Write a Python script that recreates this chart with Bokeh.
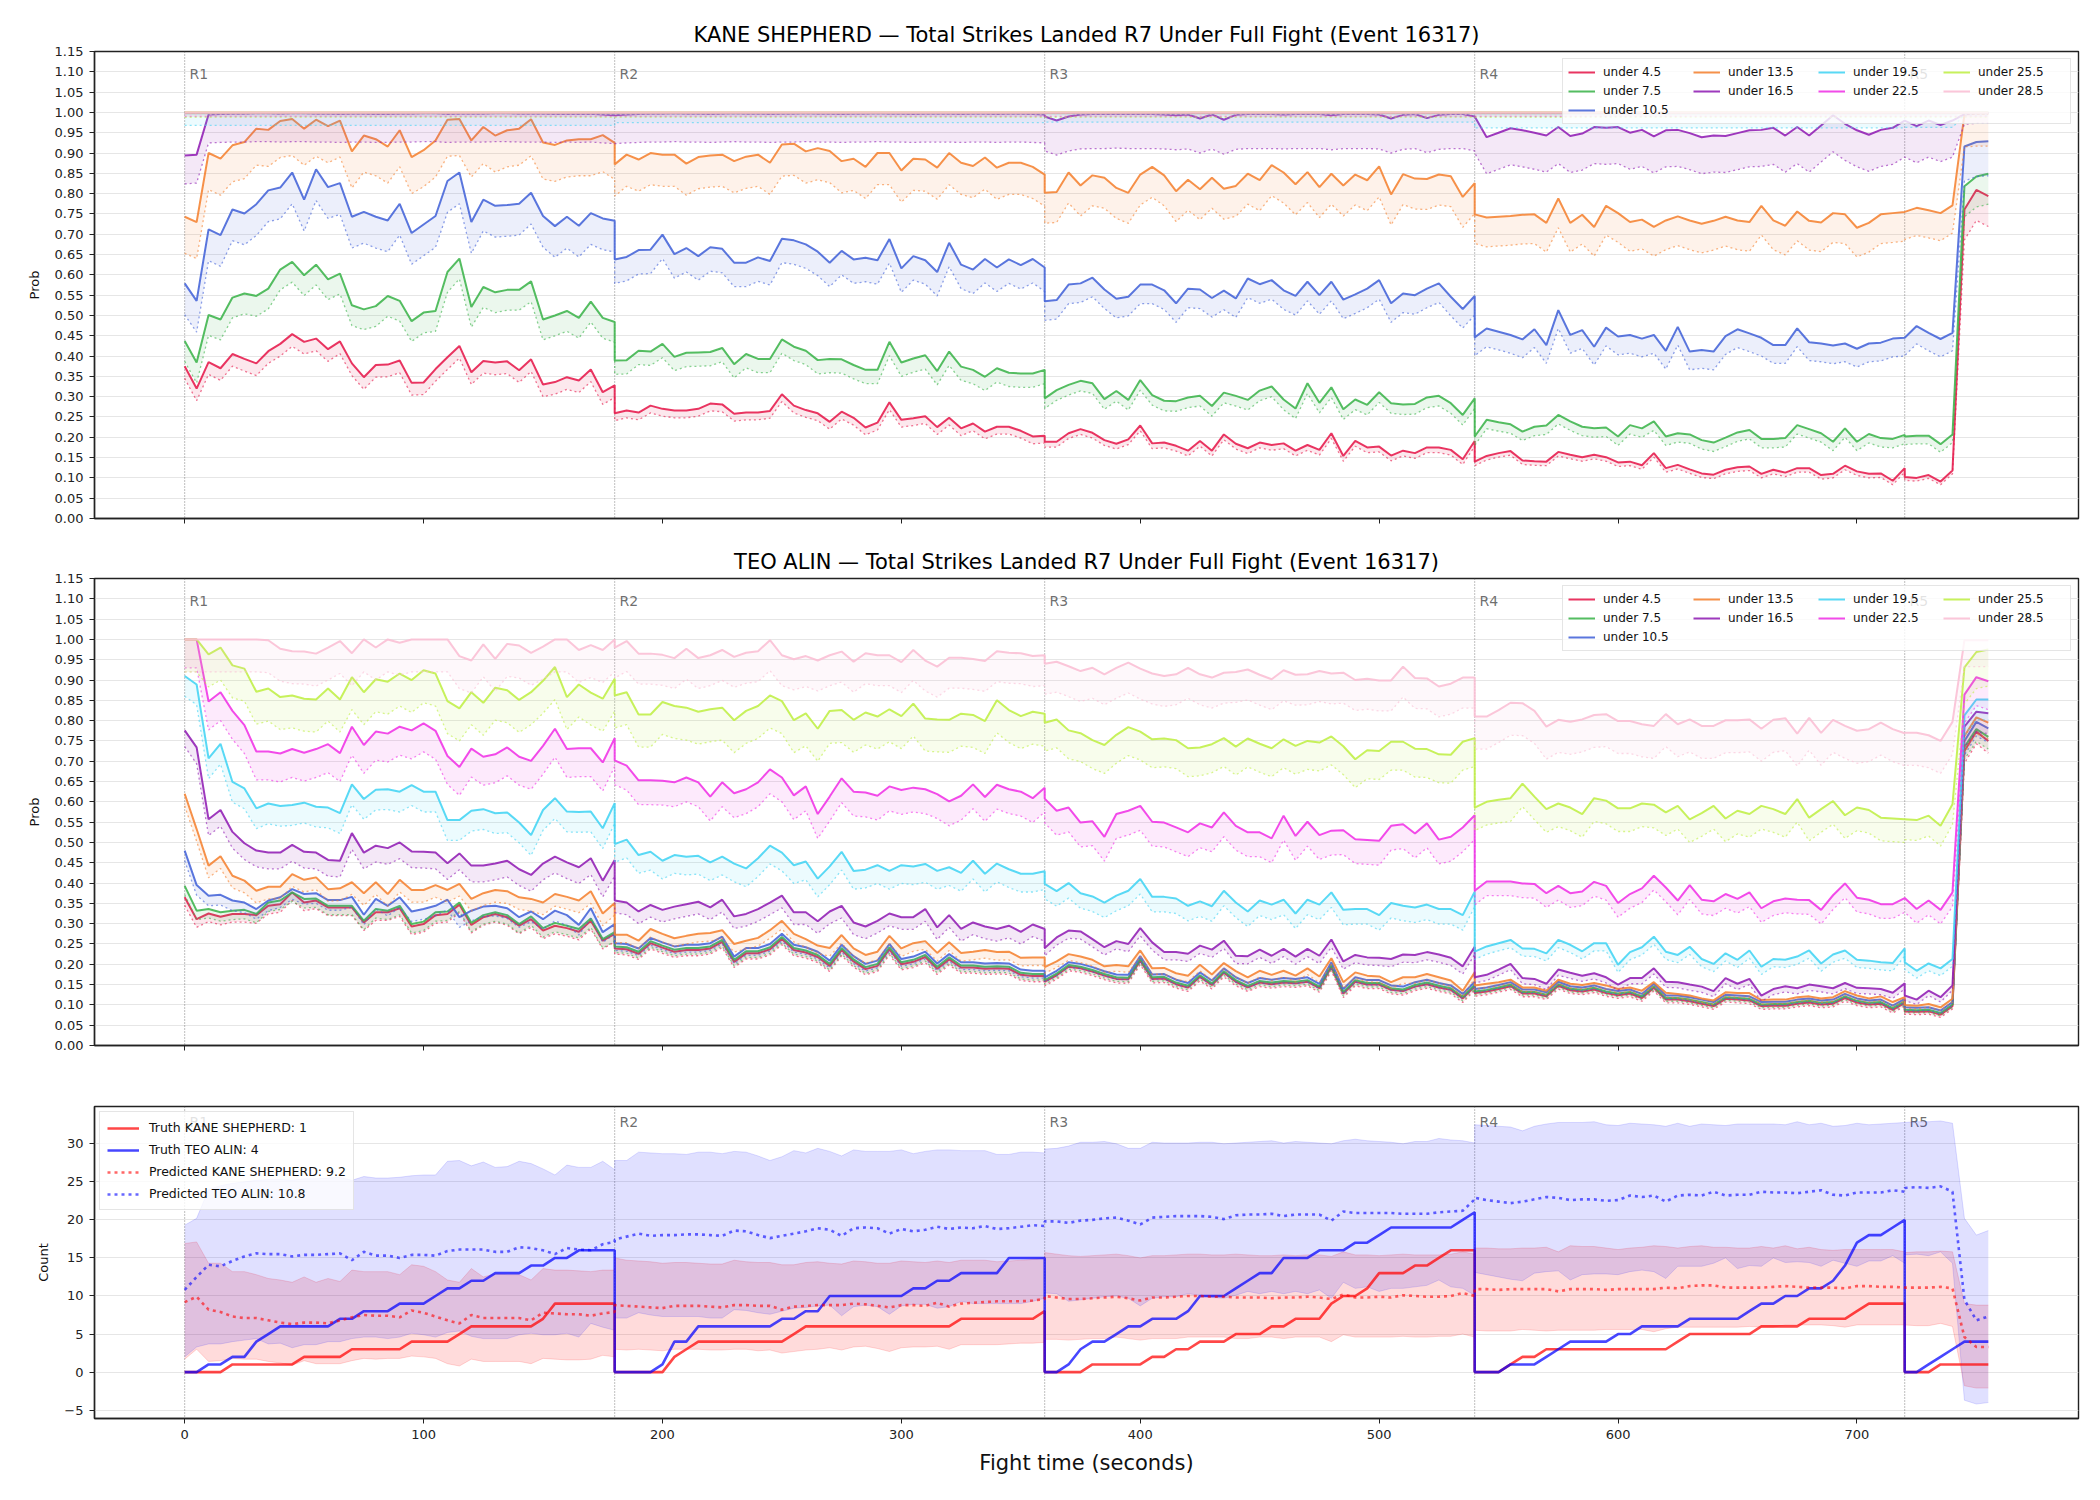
import numpy as np
from bokeh.plotting import figure
from bokeh.models import Range1d, FixedTicker, PrintfTickFormatter, Span, Legend, LegendItem
from bokeh.layouts import column
from bokeh.embed import file_html
from bokeh.resources import INLINE
from bokeh.core.properties import value

# ---------------------------------------------------------------- time grid
ROUND_STARTS = [0, 180, 360, 540, 720]
ROUND_ENDS = [180, 360, 540, 720, 755]
ROUND_NAMES = ["R1", "R2", "R3", "R4", "R5"]
STEP = 5
FINAL_JUMP_T = 745
X_TICKS = [0, 100, 200, 300, 400, 500, 600, 700]

THRESHOLDS = ["4.5", "7.5", "10.5", "13.5", "16.5", "19.5", "22.5", "25.5", "28.5"]
COLORS = ["#e6194b", "#3cb44b", "#4363d8", "#f58231", "#911eb4",
          "#42d4f4", "#f032e6", "#bfef45", "#fabed4"]

# ---------------------------------------------------------------- KANE SHEPHERD, P(strikes under X)
KANE_U4_5 = [
    0.375, 0.32, 0.385, 0.37, 0.405, 0.393, 0.382, 0.412, 0.43, 0.454, 0.435, 0.443, 0.417, 0.436, 0.382, 0.348, 0.378, 0.379, 0.389, 0.334, 0.335, 0.368, 0.397, 0.425, 0.36, 0.388, 0.384, 0.387, 0.365, 0.392, 0.33, 0.336, 0.348, 0.34, 0.367, 0.311, 0.328,
    0.259, 0.266, 0.261, 0.278, 0.27, 0.266, 0.266, 0.27, 0.283, 0.281, 0.258, 0.261, 0.261, 0.265, 0.306, 0.278, 0.267, 0.259, 0.238, 0.263, 0.248, 0.224, 0.236, 0.286, 0.243, 0.247, 0.252, 0.225, 0.248, 0.222, 0.234, 0.214, 0.226, 0.226, 0.216, 0.202, 0.204,
    0.189, 0.189, 0.21, 0.22, 0.211, 0.193, 0.184, 0.195, 0.229, 0.185, 0.187, 0.179, 0.167, 0.191, 0.167, 0.207, 0.184, 0.173, 0.187, 0.181, 0.185, 0.167, 0.181, 0.169, 0.21, 0.154, 0.191, 0.175, 0.177, 0.155, 0.167, 0.161, 0.175, 0.175, 0.169, 0.146, 0.191,
    0.14, 0.154, 0.161, 0.166, 0.143, 0.141, 0.14, 0.164, 0.157, 0.151, 0.157, 0.151, 0.138, 0.14, 0.131, 0.161, 0.124, 0.132, 0.121, 0.111, 0.108, 0.12, 0.126, 0.128, 0.11, 0.12, 0.113, 0.124, 0.124, 0.107, 0.11, 0.13, 0.116, 0.11, 0.111, 0.093, 0.124,
    0.102, 0.1, 0.107, 0.091, 0.118, 0.761, 0.809, 0.794]
KANE_U7_5 = [
    0.437, 0.384, 0.501, 0.49, 0.544, 0.554, 0.548, 0.566, 0.613, 0.632, 0.599, 0.625, 0.589, 0.603, 0.525, 0.515, 0.523, 0.548, 0.536, 0.486, 0.507, 0.511, 0.607, 0.64, 0.521, 0.57, 0.557, 0.563, 0.563, 0.584, 0.49, 0.5, 0.511, 0.494, 0.534, 0.494, 0.484,
    0.389, 0.39, 0.413, 0.411, 0.43, 0.398, 0.408, 0.409, 0.41, 0.42, 0.38, 0.405, 0.393, 0.393, 0.441, 0.423, 0.413, 0.39, 0.393, 0.392, 0.378, 0.366, 0.366, 0.435, 0.384, 0.394, 0.402, 0.363, 0.411, 0.374, 0.366, 0.349, 0.37, 0.359, 0.357, 0.357, 0.366,
    0.296, 0.316, 0.329, 0.339, 0.333, 0.294, 0.314, 0.292, 0.341, 0.304, 0.29, 0.289, 0.298, 0.302, 0.277, 0.31, 0.302, 0.292, 0.315, 0.325, 0.293, 0.271, 0.333, 0.285, 0.323, 0.269, 0.293, 0.28, 0.311, 0.284, 0.281, 0.282, 0.298, 0.302, 0.284, 0.255, 0.296,
    0.202, 0.243, 0.237, 0.232, 0.214, 0.226, 0.229, 0.255, 0.239, 0.226, 0.222, 0.224, 0.202, 0.23, 0.222, 0.239, 0.202, 0.21, 0.207, 0.193, 0.187, 0.199, 0.212, 0.218, 0.196, 0.196, 0.198, 0.23, 0.22, 0.21, 0.189, 0.222, 0.189, 0.208, 0.198, 0.196, 0.206,
    0.202, 0.204, 0.204, 0.183, 0.207, 0.818, 0.842, 0.849]
KANE_U10_5 = [
    0.579, 0.536, 0.712, 0.698, 0.761, 0.751, 0.774, 0.808, 0.815, 0.852, 0.785, 0.86, 0.816, 0.826, 0.743, 0.755, 0.743, 0.734, 0.775, 0.703, 0.724, 0.745, 0.831, 0.852, 0.73, 0.785, 0.77, 0.772, 0.775, 0.802, 0.745, 0.72, 0.743, 0.721, 0.752, 0.739, 0.733,
    0.638, 0.644, 0.661, 0.662, 0.699, 0.651, 0.666, 0.646, 0.668, 0.664, 0.63, 0.63, 0.643, 0.634, 0.689, 0.685, 0.675, 0.657, 0.63, 0.659, 0.638, 0.642, 0.636, 0.688, 0.616, 0.646, 0.636, 0.607, 0.679, 0.625, 0.613, 0.639, 0.618, 0.638, 0.624, 0.639, 0.618,
    0.535, 0.538, 0.576, 0.579, 0.593, 0.564, 0.541, 0.546, 0.576, 0.576, 0.562, 0.53, 0.566, 0.564, 0.543, 0.561, 0.542, 0.591, 0.577, 0.587, 0.562, 0.548, 0.583, 0.55, 0.583, 0.539, 0.552, 0.566, 0.587, 0.53, 0.554, 0.55, 0.566, 0.579, 0.546, 0.516, 0.548,
    0.446, 0.468, 0.46, 0.452, 0.441, 0.466, 0.427, 0.513, 0.452, 0.464, 0.423, 0.47, 0.448, 0.452, 0.443, 0.452, 0.413, 0.472, 0.411, 0.415, 0.411, 0.449, 0.466, 0.456, 0.445, 0.427, 0.427, 0.468, 0.434, 0.431, 0.426, 0.431, 0.418, 0.431, 0.433, 0.443, 0.445,
    0.445, 0.474, 0.457, 0.442, 0.457, 0.916, 0.927, 0.929]
KANE_U13_5 = [
    0.743, 0.73, 0.9, 0.886, 0.919, 0.927, 0.96, 0.957, 0.979, 0.984, 0.96, 0.982, 0.966, 0.98, 0.904, 0.943, 0.934, 0.916, 0.956, 0.89, 0.907, 0.931, 0.982, 0.984, 0.931, 0.964, 0.943, 0.956, 0.96, 0.983, 0.926, 0.92, 0.931, 0.934, 0.934, 0.944, 0.925,
    0.872, 0.896, 0.884, 0.9, 0.896, 0.896, 0.874, 0.89, 0.894, 0.896, 0.88, 0.891, 0.896, 0.876, 0.921, 0.923, 0.904, 0.912, 0.905, 0.88, 0.886, 0.866, 0.9, 0.9, 0.857, 0.886, 0.884, 0.864, 0.9, 0.876, 0.868, 0.889, 0.864, 0.876, 0.876, 0.866, 0.847,
    0.802, 0.804, 0.852, 0.82, 0.845, 0.839, 0.814, 0.802, 0.847, 0.866, 0.845, 0.806, 0.834, 0.811, 0.839, 0.812, 0.819, 0.849, 0.833, 0.87, 0.852, 0.823, 0.853, 0.816, 0.849, 0.82, 0.847, 0.833, 0.867, 0.798, 0.848, 0.837, 0.836, 0.847, 0.843, 0.792, 0.826,
    0.749, 0.741, 0.743, 0.745, 0.748, 0.749, 0.728, 0.788, 0.728, 0.748, 0.718, 0.77, 0.752, 0.73, 0.736, 0.718, 0.734, 0.744, 0.734, 0.726, 0.733, 0.743, 0.734, 0.73, 0.77, 0.734, 0.721, 0.756, 0.733, 0.729, 0.752, 0.749, 0.716, 0.728, 0.749, 0.752, 0.755,
    0.755, 0.765, 0.759, 0.752, 0.771, 0.995, 0.997, 0.997]
KANE_U16_5 = [
    0.894, 0.896, 0.995, 0.996, 0.997, 0.997, 0.998, 0.998, 0.997, 0.998, 0.998, 0.997, 0.997, 0.996, 0.997, 0.997, 0.996, 0.996, 0.997, 0.997, 0.998, 0.998, 0.996, 0.997, 0.997, 0.997, 0.998, 0.998, 0.997, 0.997, 0.997, 0.996, 0.997, 0.996, 0.997, 0.995, 0.993,
    0.993, 0.995, 0.996, 0.997, 0.997, 0.998, 0.997, 0.997, 0.996, 0.997, 0.998, 0.997, 0.997, 0.996, 0.997, 0.997, 0.998, 0.997, 0.997, 0.996, 0.997, 0.997, 0.998, 0.997, 0.997, 0.996, 0.997, 0.997, 0.997, 0.996, 0.997, 0.997, 0.996, 0.997, 0.997, 0.996, 0.995,
    0.99, 0.98, 0.99, 0.995, 0.996, 0.996, 0.997, 0.996, 0.996, 0.996, 0.995, 0.993, 0.995, 0.985, 0.995, 0.982, 0.994, 0.996, 0.996, 0.996, 0.995, 0.996, 0.996, 0.996, 0.993, 0.996, 0.996, 0.996, 0.995, 0.985, 0.994, 0.996, 0.986, 0.994, 0.996, 0.996, 0.99,
    0.99, 0.939, 0.95, 0.961, 0.956, 0.95, 0.943, 0.964, 0.942, 0.948, 0.964, 0.962, 0.964, 0.95, 0.957, 0.941, 0.956, 0.957, 0.949, 0.939, 0.943, 0.942, 0.949, 0.956, 0.957, 0.962, 0.943, 0.964, 0.943, 0.968, 0.993, 0.972, 0.956, 0.945, 0.957, 0.962, 0.98,
    0.98, 0.966, 0.98, 0.969, 0.98, 0.996, 0.998, 0.998]
# the four highest thresholds stay pinned near certainty for the whole bout
KANE_U19_5 = [0.998] * 153 + [0.999] * 3
KANE_U22_5 = [0.999] * 156
KANE_U25_5 = [1.0] * 156
KANE_U28_5 = [1.0] * 156

# lower dotted bound: distance below each line, per R1..R5 and for the last three samples
KANE_GAPS = [
    [0.03, 0.018, 0.013, 0.01, 0.008, 0.075],
    [0.05, 0.034, 0.025, 0.022, 0.02, 0.075],
    [0.077, 0.059, 0.047, 0.045, 0.044, 0.085],
    [0.09, 0.078, 0.075, 0.072, 0.068, 0.08],
    [0.07, 0.07, 0.085, 0.09, 0.09, 0.025],
    [0.03, 0.023, 0.022, 0.036, 0.035, 0.005],
    [0.009, 0.009, 0.009, 0.009, 0.009, 0.009],
    [0.012, 0.012, 0.012, 0.012, 0.012, 0.012],
    [0.005, 0.005, 0.005, 0.005, 0.005, 0.005],
]

# ---------------------------------------------------------------- TEO ALIN, P(strikes under X)
TEO_U4_5 = [
    0.365, 0.311, 0.325, 0.317, 0.324, 0.324, 0.321, 0.344, 0.348, 0.377, 0.352, 0.357, 0.34, 0.34, 0.34, 0.303, 0.328, 0.328, 0.338, 0.293, 0.299, 0.321, 0.324, 0.347, 0.297, 0.316, 0.324, 0.316, 0.295, 0.311, 0.283, 0.295, 0.289, 0.28, 0.307, 0.258, 0.275,
    0.239, 0.237, 0.226, 0.252, 0.241, 0.231, 0.235, 0.235, 0.239, 0.255, 0.206, 0.227, 0.227, 0.237, 0.262, 0.235, 0.229, 0.218, 0.196, 0.235, 0.207, 0.188, 0.196, 0.237, 0.2, 0.206, 0.218, 0.189, 0.212, 0.192, 0.192, 0.189, 0.19, 0.189, 0.174, 0.171, 0.171,
    0.157, 0.173, 0.194, 0.19, 0.182, 0.172, 0.164, 0.163, 0.209, 0.164, 0.165, 0.151, 0.143, 0.169, 0.149, 0.179, 0.157, 0.143, 0.155, 0.151, 0.155, 0.153, 0.157, 0.141, 0.194, 0.128, 0.157, 0.15, 0.15, 0.137, 0.134, 0.145, 0.151, 0.143, 0.137, 0.116, 0.146,
    0.129, 0.133, 0.139, 0.146, 0.128, 0.128, 0.121, 0.147, 0.136, 0.133, 0.138, 0.129, 0.124, 0.128, 0.117, 0.142, 0.113, 0.113, 0.109, 0.103, 0.097, 0.115, 0.113, 0.111, 0.097, 0.098, 0.098, 0.103, 0.106, 0.101, 0.103, 0.117, 0.106, 0.101, 0.103, 0.088, 0.105,
    0.084, 0.083, 0.084, 0.076, 0.097, 0.725, 0.773, 0.75]
TEO_U7_5 = [
    0.393, 0.332, 0.336, 0.328, 0.332, 0.334, 0.324, 0.352, 0.357, 0.377, 0.361, 0.362, 0.344, 0.344, 0.344, 0.307, 0.336, 0.332, 0.344, 0.299, 0.305, 0.328, 0.33, 0.352, 0.302, 0.321, 0.328, 0.321, 0.299, 0.318, 0.289, 0.302, 0.295, 0.287, 0.313, 0.262, 0.279,
    0.244, 0.242, 0.231, 0.257, 0.246, 0.236, 0.24, 0.24, 0.244, 0.26, 0.211, 0.232, 0.232, 0.242, 0.267, 0.24, 0.234, 0.223, 0.201, 0.24, 0.212, 0.193, 0.201, 0.242, 0.205, 0.211, 0.223, 0.194, 0.217, 0.197, 0.197, 0.194, 0.195, 0.194, 0.179, 0.176, 0.176,
    0.161, 0.177, 0.198, 0.194, 0.186, 0.176, 0.168, 0.167, 0.213, 0.168, 0.169, 0.155, 0.147, 0.173, 0.153, 0.183, 0.161, 0.147, 0.159, 0.155, 0.159, 0.157, 0.161, 0.145, 0.198, 0.132, 0.161, 0.154, 0.154, 0.141, 0.138, 0.149, 0.155, 0.147, 0.141, 0.12, 0.15,
    0.133, 0.137, 0.143, 0.15, 0.132, 0.132, 0.125, 0.151, 0.14, 0.137, 0.142, 0.133, 0.128, 0.132, 0.121, 0.146, 0.117, 0.117, 0.113, 0.107, 0.101, 0.119, 0.117, 0.115, 0.101, 0.102, 0.102, 0.107, 0.11, 0.105, 0.107, 0.121, 0.11, 0.105, 0.107, 0.092, 0.109,
    0.088, 0.087, 0.088, 0.08, 0.101, 0.735, 0.779, 0.76]
TEO_U10_5 = [
    0.48, 0.395, 0.369, 0.371, 0.357, 0.352, 0.336, 0.357, 0.365, 0.385, 0.373, 0.375, 0.358, 0.358, 0.366, 0.322, 0.361, 0.344, 0.365, 0.33, 0.336, 0.344, 0.359, 0.316, 0.332, 0.342, 0.344, 0.338, 0.316, 0.33, 0.311, 0.332, 0.321, 0.297, 0.338, 0.279, 0.299,
    0.252, 0.25, 0.239, 0.265, 0.254, 0.244, 0.248, 0.248, 0.252, 0.268, 0.219, 0.24, 0.24, 0.25, 0.275, 0.248, 0.242, 0.231, 0.209, 0.248, 0.22, 0.201, 0.209, 0.25, 0.213, 0.219, 0.231, 0.202, 0.225, 0.205, 0.205, 0.202, 0.203, 0.202, 0.187, 0.184, 0.184,
    0.168, 0.184, 0.205, 0.201, 0.193, 0.183, 0.175, 0.174, 0.22, 0.175, 0.176, 0.162, 0.154, 0.18, 0.16, 0.19, 0.168, 0.154, 0.166, 0.162, 0.166, 0.164, 0.168, 0.152, 0.205, 0.139, 0.168, 0.161, 0.161, 0.148, 0.145, 0.156, 0.162, 0.154, 0.148, 0.127, 0.157,
    0.139, 0.143, 0.149, 0.156, 0.138, 0.138, 0.131, 0.157, 0.146, 0.143, 0.148, 0.139, 0.134, 0.138, 0.127, 0.152, 0.123, 0.123, 0.119, 0.113, 0.107, 0.125, 0.123, 0.121, 0.107, 0.108, 0.108, 0.113, 0.116, 0.111, 0.113, 0.127, 0.116, 0.111, 0.113, 0.098, 0.115,
    0.094, 0.093, 0.094, 0.086, 0.107, 0.75, 0.797, 0.781]
TEO_U13_5 = [
    0.62, 0.533, 0.443, 0.466, 0.418, 0.406, 0.381, 0.391, 0.391, 0.422, 0.408, 0.414, 0.385, 0.387, 0.402, 0.375, 0.402, 0.373, 0.408, 0.383, 0.383, 0.395, 0.383, 0.398, 0.361, 0.375, 0.383, 0.38, 0.365, 0.361, 0.352, 0.373, 0.366, 0.357, 0.38, 0.325, 0.351,
    0.273, 0.273, 0.258, 0.287, 0.275, 0.264, 0.27, 0.275, 0.277, 0.284, 0.25, 0.258, 0.265, 0.284, 0.307, 0.275, 0.262, 0.246, 0.24, 0.272, 0.239, 0.223, 0.231, 0.27, 0.239, 0.252, 0.257, 0.228, 0.254, 0.228, 0.231, 0.235, 0.23, 0.231, 0.216, 0.217, 0.217,
    0.193, 0.207, 0.225, 0.219, 0.211, 0.195, 0.198, 0.195, 0.234, 0.19, 0.191, 0.178, 0.172, 0.199, 0.175, 0.203, 0.183, 0.168, 0.184, 0.174, 0.184, 0.172, 0.19, 0.17, 0.215, 0.156, 0.18, 0.172, 0.17, 0.156, 0.168, 0.168, 0.176, 0.168, 0.16, 0.135, 0.18,
    0.148, 0.152, 0.156, 0.162, 0.143, 0.143, 0.135, 0.162, 0.152, 0.149, 0.154, 0.148, 0.139, 0.143, 0.135, 0.156, 0.13, 0.127, 0.123, 0.116, 0.111, 0.131, 0.129, 0.129, 0.112, 0.113, 0.113, 0.119, 0.121, 0.116, 0.119, 0.134, 0.123, 0.116, 0.121, 0.107, 0.119,
    0.1, 0.098, 0.102, 0.094, 0.115, 0.762, 0.808, 0.795]
TEO_U16_5 = [
    0.776, 0.734, 0.557, 0.58, 0.526, 0.498, 0.48, 0.475, 0.475, 0.494, 0.477, 0.475, 0.457, 0.455, 0.523, 0.475, 0.492, 0.486, 0.5, 0.478, 0.477, 0.475, 0.449, 0.473, 0.443, 0.443, 0.448, 0.455, 0.434, 0.42, 0.448, 0.465, 0.451, 0.439, 0.461, 0.406, 0.457,
    0.357, 0.352, 0.33, 0.346, 0.334, 0.342, 0.348, 0.354, 0.34, 0.359, 0.318, 0.324, 0.336, 0.352, 0.369, 0.328, 0.328, 0.306, 0.33, 0.344, 0.303, 0.293, 0.307, 0.325, 0.316, 0.316, 0.336, 0.291, 0.321, 0.287, 0.303, 0.293, 0.287, 0.295, 0.28, 0.298, 0.287,
    0.24, 0.266, 0.283, 0.281, 0.262, 0.242, 0.257, 0.25, 0.289, 0.254, 0.23, 0.23, 0.226, 0.246, 0.236, 0.258, 0.221, 0.22, 0.236, 0.221, 0.238, 0.219, 0.238, 0.221, 0.261, 0.207, 0.223, 0.217, 0.216, 0.213, 0.224, 0.223, 0.23, 0.224, 0.216, 0.195, 0.243,
    0.168, 0.174, 0.187, 0.201, 0.166, 0.164, 0.152, 0.187, 0.179, 0.172, 0.178, 0.168, 0.15, 0.166, 0.166, 0.19, 0.157, 0.156, 0.15, 0.145, 0.134, 0.166, 0.152, 0.164, 0.123, 0.139, 0.146, 0.141, 0.15, 0.146, 0.141, 0.154, 0.142, 0.141, 0.139, 0.13, 0.153,
    0.123, 0.113, 0.135, 0.119, 0.148, 0.785, 0.822, 0.818]
TEO_U19_5 = [
    0.91, 0.889, 0.707, 0.743, 0.649, 0.633, 0.584, 0.596, 0.59, 0.592, 0.598, 0.588, 0.586, 0.572, 0.643, 0.607, 0.63, 0.631, 0.625, 0.641, 0.625, 0.625, 0.555, 0.555, 0.578, 0.582, 0.572, 0.574, 0.549, 0.518, 0.58, 0.609, 0.576, 0.575, 0.576, 0.535, 0.597,
    0.496, 0.507, 0.469, 0.477, 0.455, 0.469, 0.465, 0.467, 0.451, 0.465, 0.448, 0.436, 0.461, 0.492, 0.475, 0.444, 0.453, 0.411, 0.441, 0.477, 0.43, 0.433, 0.444, 0.43, 0.444, 0.441, 0.447, 0.43, 0.439, 0.425, 0.455, 0.423, 0.448, 0.434, 0.423, 0.423, 0.429,
    0.398, 0.38, 0.4, 0.375, 0.367, 0.352, 0.369, 0.381, 0.41, 0.366, 0.366, 0.362, 0.344, 0.355, 0.343, 0.381, 0.352, 0.33, 0.357, 0.347, 0.359, 0.325, 0.359, 0.347, 0.377, 0.334, 0.336, 0.336, 0.321, 0.351, 0.344, 0.34, 0.347, 0.336, 0.336, 0.321, 0.379,
    0.231, 0.244, 0.252, 0.26, 0.239, 0.238, 0.227, 0.26, 0.248, 0.232, 0.252, 0.252, 0.199, 0.23, 0.242, 0.268, 0.231, 0.223, 0.243, 0.213, 0.201, 0.227, 0.211, 0.234, 0.194, 0.213, 0.211, 0.219, 0.234, 0.202, 0.224, 0.234, 0.211, 0.209, 0.205, 0.203, 0.239,
    0.205, 0.184, 0.202, 0.19, 0.213, 0.813, 0.852, 0.852]
TEO_U22_5 = [
    1.0, 1.0, 0.847, 0.87, 0.824, 0.789, 0.724, 0.724, 0.719, 0.73, 0.721, 0.73, 0.742, 0.72, 0.785, 0.74, 0.773, 0.768, 0.785, 0.776, 0.793, 0.775, 0.713, 0.686, 0.731, 0.711, 0.717, 0.734, 0.711, 0.701, 0.738, 0.78, 0.73, 0.732, 0.732, 0.697, 0.757,
    0.702, 0.689, 0.653, 0.653, 0.652, 0.648, 0.66, 0.648, 0.613, 0.648, 0.621, 0.631, 0.648, 0.68, 0.66, 0.616, 0.638, 0.57, 0.613, 0.658, 0.625, 0.623, 0.615, 0.638, 0.629, 0.635, 0.631, 0.619, 0.601, 0.615, 0.643, 0.612, 0.642, 0.631, 0.625, 0.609, 0.635,
    0.608, 0.578, 0.586, 0.549, 0.552, 0.514, 0.57, 0.578, 0.59, 0.551, 0.549, 0.537, 0.525, 0.547, 0.537, 0.574, 0.541, 0.525, 0.525, 0.51, 0.566, 0.516, 0.551, 0.518, 0.529, 0.53, 0.508, 0.506, 0.504, 0.541, 0.545, 0.522, 0.547, 0.507, 0.514, 0.537, 0.567,
    0.381, 0.404, 0.404, 0.404, 0.399, 0.398, 0.375, 0.393, 0.375, 0.379, 0.403, 0.393, 0.351, 0.373, 0.387, 0.418, 0.389, 0.357, 0.395, 0.359, 0.355, 0.373, 0.361, 0.377, 0.338, 0.355, 0.362, 0.359, 0.358, 0.334, 0.37, 0.399, 0.364, 0.359, 0.348, 0.348, 0.363,
    0.363, 0.336, 0.357, 0.334, 0.377, 0.864, 0.907, 0.897]
TEO_U25_5 = [
    1.0, 1.0, 0.963, 0.98, 0.936, 0.928, 0.871, 0.879, 0.858, 0.862, 0.854, 0.852, 0.879, 0.852, 0.907, 0.87, 0.902, 0.896, 0.916, 0.9, 0.924, 0.916, 0.848, 0.83, 0.87, 0.844, 0.881, 0.875, 0.851, 0.87, 0.898, 0.932, 0.858, 0.889, 0.869, 0.854, 0.903,
    0.862, 0.87, 0.815, 0.815, 0.846, 0.836, 0.832, 0.822, 0.828, 0.832, 0.801, 0.824, 0.836, 0.862, 0.848, 0.801, 0.818, 0.78, 0.824, 0.826, 0.802, 0.82, 0.81, 0.828, 0.811, 0.842, 0.805, 0.803, 0.802, 0.817, 0.814, 0.799, 0.85, 0.826, 0.811, 0.822, 0.817,
    0.795, 0.803, 0.776, 0.769, 0.752, 0.74, 0.765, 0.784, 0.773, 0.754, 0.756, 0.752, 0.732, 0.734, 0.742, 0.757, 0.736, 0.756, 0.743, 0.732, 0.754, 0.738, 0.75, 0.746, 0.761, 0.737, 0.705, 0.727, 0.725, 0.748, 0.748, 0.731, 0.73, 0.717, 0.716, 0.748, 0.757,
    0.586, 0.6, 0.605, 0.609, 0.645, 0.613, 0.582, 0.596, 0.586, 0.57, 0.609, 0.603, 0.584, 0.584, 0.596, 0.593, 0.574, 0.59, 0.557, 0.572, 0.59, 0.559, 0.578, 0.57, 0.59, 0.582, 0.57, 0.607, 0.561, 0.582, 0.602, 0.567, 0.586, 0.58, 0.561, 0.559, 0.557,
    0.557, 0.555, 0.566, 0.541, 0.594, 0.931, 0.969, 0.975]
TEO_U28_5 = [
    1.0, 1.0, 1.0, 1.0, 1.0, 1.0, 1.0, 0.998, 0.977, 0.971, 0.97, 0.965, 0.98, 0.996, 0.966, 1.0, 0.98, 1.0, 0.992, 1.0, 1.0, 1.0, 1.0, 0.959, 0.948, 0.988, 0.952, 0.989, 0.985, 0.967, 0.982, 1.0, 1.0, 0.974, 0.986, 0.974, 1.0,
    0.98, 0.996, 0.965, 0.965, 0.962, 0.954, 0.977, 0.954, 0.961, 0.974, 0.957, 0.967, 0.971, 0.998, 0.961, 0.951, 0.959, 0.948, 0.961, 0.97, 0.945, 0.966, 0.961, 0.961, 0.944, 0.974, 0.948, 0.933, 0.955, 0.955, 0.952, 0.947, 0.971, 0.967, 0.966, 0.959, 0.961,
    0.94, 0.945, 0.934, 0.922, 0.93, 0.914, 0.93, 0.943, 0.928, 0.916, 0.91, 0.914, 0.93, 0.914, 0.906, 0.918, 0.92, 0.926, 0.913, 0.902, 0.924, 0.913, 0.914, 0.922, 0.916, 0.918, 0.9, 0.903, 0.899, 0.899, 0.933, 0.905, 0.904, 0.884, 0.891, 0.906, 0.906,
    0.81, 0.81, 0.826, 0.844, 0.843, 0.824, 0.785, 0.802, 0.797, 0.803, 0.814, 0.816, 0.799, 0.799, 0.791, 0.787, 0.816, 0.791, 0.803, 0.787, 0.787, 0.801, 0.801, 0.803, 0.78, 0.802, 0.806, 0.768, 0.807, 0.77, 0.802, 0.787, 0.775, 0.779, 0.795, 0.779, 0.769,
    0.77, 0.77, 0.764, 0.75, 0.797, 0.998, 0.998, 0.998]

TEO_GAPS = [
    [0.02, 0.014, 0.01, 0.008, 0.007, 0.03],
    [0.022, 0.015, 0.01, 0.008, 0.007, 0.03],
    [0.025, 0.018, 0.012, 0.009, 0.008, 0.035],
    [0.03, 0.02, 0.015, 0.01, 0.008, 0.04],
    [0.04, 0.03, 0.019, 0.014, 0.012, 0.05],
    [0.05, 0.045, 0.037, 0.019, 0.018, 0.05],
    [0.07, 0.06, 0.06, 0.035, 0.035, 0.07],
    [0.08, 0.08, 0.07, 0.057, 0.05, 0.09],
    [0.08, 0.075, 0.075, 0.08, 0.08, 0.065],
]

# ---------------------------------------------------------------- strike counts
TRUTH_KANE = [
    0, 0, 0, 0, 1, 1, 1, 1, 1, 1, 2, 2, 2, 2, 3, 3, 3, 3, 3, 4, 4, 4, 4, 5, 6, 6, 6, 6, 6, 6, 7, 9, 9, 9, 9, 9, 9,
    0, 0, 0, 0, 0, 2, 3, 4, 4, 4, 4, 4, 4, 4, 4, 5, 6, 6, 6, 6, 6, 6, 6, 6, 6, 6, 6, 6, 6, 7, 7, 7, 7, 7, 7, 7, 8,
    0, 0, 0, 0, 1, 1, 1, 1, 1, 2, 2, 3, 3, 4, 4, 4, 5, 5, 5, 6, 6, 7, 7, 7, 9, 10, 10, 11, 13, 13, 13, 14, 14, 15, 16, 16, 16,
    0, 0, 0, 1, 2, 2, 3, 3, 3, 3, 3, 3, 3, 3, 3, 3, 3, 4, 5, 5, 5, 5, 5, 5, 6, 6, 6, 6, 7, 7, 7, 7, 8, 9, 9, 9, 9,
    0, 0, 0, 1, 1, 1, 1, 1]
TRUTH_TEO = [
    0, 0, 1, 1, 2, 2, 4, 5, 6, 6, 6, 6, 6, 7, 7, 8, 8, 8, 9, 9, 9, 10, 11, 11, 12, 12, 13, 13, 13, 14, 14, 15, 15, 16, 16, 16, 16,
    0, 0, 0, 0, 1, 4, 4, 6, 6, 6, 6, 6, 6, 6, 7, 7, 8, 8, 10, 10, 10, 10, 10, 10, 10, 11, 11, 12, 12, 13, 13, 13, 13, 15, 15, 15, 15,
    0, 0, 1, 3, 4, 4, 5, 6, 6, 7, 7, 7, 8, 10, 10, 10, 11, 12, 13, 13, 15, 15, 15, 16, 16, 16, 17, 17, 18, 19, 19, 19, 19, 19, 19, 20, 21,
    0, 0, 0, 1, 1, 1, 2, 3, 4, 4, 4, 4, 5, 5, 6, 6, 6, 6, 7, 7, 7, 7, 7, 8, 9, 9, 10, 10, 11, 11, 12, 14, 17, 18, 18, 19, 20,
    0, 0, 1, 2, 3, 4, 4, 4]
PRED_KANE = [
    9.2, 9.9, 8.2, 7.9, 7.3, 7.1, 7.1, 6.8, 6.5, 6.3, 6.5, 6.5, 6.4, 6.8, 7.2, 7.5, 7.4, 7.4, 7.2, 8.1, 7.8, 7.3, 6.8, 6.4, 7.5, 7.1, 7.1, 7.1, 7.1, 6.8, 7.8, 7.7, 7.6, 7.6, 7.4, 7.7, 7.9,
    8.8, 8.7, 8.6, 8.5, 8.4, 8.7, 8.7, 8.7, 8.6, 8.5, 8.8, 8.8, 8.7, 8.7, 8.2, 8.6, 8.7, 8.8, 8.8, 8.8, 9.0, 8.9, 8.7, 8.5, 8.8, 8.8, 8.7, 9.1, 8.6, 9.0, 9.1, 9.2, 9.3, 9.3, 9.3, 9.4, 9.6,
    10.0, 9.8, 9.6, 9.6, 9.7, 9.8, 9.9, 9.7, 9.4, 9.8, 9.8, 9.9, 10.0, 10.0, 9.9, 9.9, 9.8, 9.8, 9.8, 9.7, 9.8, 9.8, 9.9, 9.8, 9.6, 10.2, 9.8, 9.8, 9.9, 9.8, 10.1, 10.0, 9.9, 9.9, 10.0, 10.4, 10.0,
    10.9, 10.9, 10.8, 10.9, 10.9, 10.9, 10.9, 10.6, 10.9, 10.9, 10.9, 10.8, 10.9, 10.9, 10.9, 10.9, 11.1, 11.0, 11.3, 11.4, 11.4, 11.1, 11.1, 11.1, 11.1, 11.2, 11.3, 11.2, 11.1, 11.1, 11.1, 11.0, 11.3, 11.3, 11.2, 11.2, 11.1,
    11.1, 11.1, 11.1, 11.2, 11.0, 4.6, 3.3, 3.3]
PRED_TEO = [
    10.8, 12.5, 14.1, 13.9, 14.6, 15.2, 15.6, 15.5, 15.5, 15.2, 15.4, 15.4, 15.5, 15.6, 14.7, 15.8, 15.3, 15.3, 15.0, 15.4, 15.4, 15.3, 15.9, 16.1, 16.1, 16.1, 15.8, 15.8, 16.4, 16.3, 16.0, 15.5, 16.3, 16.1, 16.0, 16.8, 17.1,
    17.4, 17.8, 18.2, 17.9, 18.0, 18.0, 18.1, 18.1, 18.0, 17.9, 18.6, 18.5, 18.0, 17.6, 17.9, 18.2, 18.5, 18.9, 18.7, 17.9, 18.9, 19.0, 18.9, 18.2, 18.8, 18.5, 18.7, 19.1, 18.8, 19.0, 18.9, 19.2, 18.8, 18.9, 19.1, 19.3, 19.2,
    19.8, 19.8, 19.6, 19.9, 20.0, 20.2, 20.3, 19.9, 19.4, 20.3, 20.4, 20.5, 20.5, 20.5, 20.4, 20.1, 20.6, 20.7, 20.7, 20.8, 20.5, 20.7, 20.7, 20.7, 19.9, 21.1, 20.9, 20.9, 20.9, 20.9, 20.8, 20.8, 20.8, 21.0, 21.1, 21.2, 22.7,
    22.9, 22.6, 22.4, 22.2, 22.4, 22.7, 23.0, 22.9, 22.6, 22.7, 22.7, 22.5, 22.6, 23.2, 23.0, 23.2, 22.4, 23.2, 23.3, 23.2, 23.7, 23.2, 23.3, 23.3, 23.7, 23.6, 23.6, 23.5, 23.7, 23.9, 23.3, 23.2, 23.6, 23.6, 23.6, 23.9, 23.7,
    24.2, 24.3, 24.2, 24.4, 23.7, 9.5, 6.8, 7.3]
KANE_HI = [
    16.9, 17.1, 14.3, 14.3, 13.2, 13.2, 12.8, 12.3, 12.1, 11.8, 12.5, 11.8, 12.3, 11.9, 13.4, 13.2, 13.2, 13.2, 12.8, 14.1, 13.9, 13.2, 12.1, 11.8, 13.6, 12.5, 12.9, 12.8, 12.8, 12.1, 13.6, 13.4, 13.4, 13.3, 13.2, 13.4, 13.4,
    15.0, 14.7, 14.6, 14.5, 14.3, 14.4, 14.4, 14.3, 14.2, 14.2, 14.7, 14.5, 14.4, 14.4, 14.1, 14.1, 14.4, 14.5, 14.3, 14.2, 14.6, 14.5, 14.3, 14.3, 14.6, 14.5, 14.4, 14.6, 14.4, 14.7, 14.7, 14.7, 14.5, 14.6, 14.7, 14.8, 15.0,
    15.7, 15.5, 15.3, 15.2, 15.3, 15.4, 15.5, 15.3, 15.0, 15.3, 15.3, 15.4, 15.5, 15.5, 15.4, 15.4, 15.5, 15.4, 15.3, 15.3, 15.4, 15.3, 15.4, 15.4, 15.2, 15.8, 15.4, 15.4, 15.3, 15.4, 15.5, 15.4, 15.4, 15.4, 15.5, 15.8, 15.5,
    16.3, 16.3, 16.2, 16.2, 16.3, 16.3, 16.4, 15.8, 16.6, 16.5, 16.5, 16.3, 16.1, 16.3, 16.4, 16.6, 16.5, 16.3, 16.5, 16.6, 16.4, 16.4, 16.3, 16.3, 16.5, 16.3, 16.6, 16.2, 16.4, 16.1, 16.0, 16.1, 16.1, 16.1, 16.1, 16.1, 15.8,
    15.7, 15.8, 15.8, 15.9, 15.8, 9.0, 8.8, 8.8]
KANE_LO = [
    1.7, 3.0, 1.4, 1.5, 1.8, 1.7, 1.7, 1.4, 1.2, 0.9, 1.5, 1.1, 1.1, 1.1, 1.5, 1.8, 1.7, 1.8, 1.8, 2.1, 2.0, 1.8, 1.1, 0.8, 1.7, 1.4, 1.4, 1.4, 1.4, 1.1, 1.8, 1.7, 1.6, 1.6, 1.7, 2.2, 2.0,
    3.0, 2.9, 3.0, 2.9, 2.8, 3.0, 3.0, 3.0, 2.9, 2.9, 3.0, 3.0, 2.8, 2.9, 2.5, 2.7, 2.9, 3.0, 3.2, 2.9, 3.3, 3.4, 3.1, 2.7, 3.2, 3.3, 3.3, 3.4, 3.0, 3.6, 3.6, 3.6, 3.6, 3.7, 3.8, 3.8, 3.9,
    4.3, 4.3, 4.2, 4.3, 4.4, 4.4, 4.6, 4.4, 4.2, 4.4, 4.4, 4.4, 4.6, 4.6, 4.6, 4.6, 4.4, 4.4, 4.6, 4.6, 4.4, 4.6, 4.6, 4.6, 4.0, 4.9, 4.6, 4.6, 4.6, 4.6, 4.7, 4.6, 4.6, 4.7, 4.7, 5.0, 4.6,
    5.5, 5.4, 5.4, 5.4, 5.6, 5.5, 5.4, 5.5, 5.5, 5.5, 5.5, 5.6, 5.6, 5.6, 5.6, 5.3, 5.7, 5.9, 5.9, 5.9, 5.9, 5.9, 5.9, 6.0, 5.9, 5.9, 6.2, 6.2, 6.2, 6.2, 6.1, 5.9, 6.2, 6.2, 6.2, 6.2, 6.2,
    6.2, 6.1, 6.1, 6.4, 6.0, -1.8, -2.1, -2.1]
TEO_HI = [
    19.3, 20.2, 24.0, 24.5, 24.8, 25.0, 25.2, 25.3, 25.3, 25.2, 25.4, 25.4, 25.5, 25.6, 25.2, 25.7, 25.5, 25.5, 25.6, 25.8, 25.9, 25.9, 27.7, 27.8, 27.1, 27.6, 26.9, 27.0, 27.7, 27.4, 26.7, 25.9, 27.2, 26.9, 26.9, 27.7, 26.6,
    27.8, 27.8, 28.9, 28.8, 28.7, 28.7, 28.6, 28.9, 28.9, 28.7, 29.0, 28.9, 28.4, 27.8, 28.3, 29.1, 28.8, 29.4, 29.0, 28.4, 29.2, 29.0, 29.0, 29.0, 29.2, 28.7, 29.0, 29.2, 29.2, 29.1, 29.1, 29.1, 28.6, 28.6, 28.9, 28.9, 28.8,
    29.3, 29.4, 29.7, 30.2, 30.2, 30.3, 30.0, 29.4, 29.4, 30.2, 30.1, 30.1, 30.1, 30.2, 30.2, 30.0, 30.1, 30.2, 30.3, 30.4, 30.1, 30.3, 30.2, 30.1, 30.0, 30.4, 30.6, 30.4, 30.3, 30.2, 30.0, 30.3, 30.3, 30.7, 30.5, 30.4, 30.1,
    32.5, 32.4, 32.3, 32.2, 31.7, 32.3, 32.6, 32.8, 32.8, 32.8, 32.9, 32.5, 32.4, 32.7, 32.6, 32.5, 32.3, 32.7, 32.3, 32.6, 32.5, 32.4, 32.6, 32.6, 32.6, 32.6, 32.5, 32.9, 32.5, 32.7, 32.3, 32.4, 32.7, 32.5, 32.6, 32.7, 32.8,
    32.8, 32.9, 32.9, 33.0, 32.7, 20.2, 18.0, 18.6]
TEO_LO = [
    2.0, 3.3, 3.7, 3.7, 4.0, 4.2, 4.4, 3.7, 3.8, 3.2, 3.6, 3.6, 4.0, 4.0, 4.4, 4.6, 4.6, 4.4, 4.6, 5.1, 4.9, 4.6, 5.2, 5.4, 4.7, 4.4, 4.4, 4.4, 4.9, 5.1, 4.9, 4.9, 5.1, 4.6, 6.4, 5.9, 5.5,
    7.1, 7.1, 7.8, 7.5, 7.3, 7.3, 7.3, 7.3, 7.1, 7.1, 8.2, 8.1, 7.8, 7.6, 8.0, 8.4, 8.5, 8.7, 8.8, 7.4, 8.6, 8.8, 8.6, 7.6, 8.7, 8.9, 8.9, 8.4, 8.6, 9.3, 9.0, 9.0, 9.0, 9.0, 9.0, 9.3, 9.7,
    10.4, 10.3, 9.3, 9.5, 9.7, 9.9, 10.0, 9.7, 8.7, 9.7, 9.9, 9.9, 10.3, 10.1, 9.8, 9.7, 10.1, 10.6, 10.3, 10.6, 10.3, 10.6, 10.3, 10.8, 9.7, 11.8, 11.0, 11.2, 10.6, 11.0, 11.0, 11.2, 11.4, 12.1, 11.2, 11.0, 10.1,
    13.1, 12.8, 12.5, 12.2, 12.0, 13.0, 13.2, 13.3, 12.1, 12.8, 12.9, 12.9, 12.8, 13.2, 13.4, 13.2, 12.3, 13.9, 13.9, 13.9, 14.3, 15.0, 13.6, 14.0, 13.9, 15.0, 14.4, 14.5, 14.4, 13.9, 14.7, 14.3, 13.9, 14.6, 14.6, 15.3, 14.3,
    15.4, 15.5, 15.3, 15.8, 14.3, -3.7, -4.2, -4.0]

# ---------------------------------------------------------------- derived sample grid
TIMES = []
SEGMENT = []
for k, (s, e) in enumerate(zip(ROUND_STARTS, ROUND_ENDS)):
    for t in range(s, e + 1, STEP):
        TIMES.append(t)
        SEGMENT.append(5 if (k == len(ROUND_STARTS) - 1 and t >= FINAL_JUMP_T) else k)
TIMES = np.array(TIMES, dtype=float)
SEGMENT = np.array(SEGMENT)
N = len(TIMES)

KANE_SERIES = [KANE_U4_5, KANE_U7_5, KANE_U10_5, KANE_U13_5, KANE_U16_5,
               KANE_U19_5, KANE_U22_5, KANE_U25_5, KANE_U28_5]
TEO_SERIES = [TEO_U4_5, TEO_U7_5, TEO_U10_5, TEO_U13_5, TEO_U16_5,
              TEO_U19_5, TEO_U22_5, TEO_U25_5, TEO_U28_5]
for name, arr in [("kane", s) for s in KANE_SERIES] + [("teo", s) for s in TEO_SERIES] + [
        ("truth_kane", TRUTH_KANE), ("truth_teo", TRUTH_TEO), ("pred_kane", PRED_KANE),
        ("pred_teo", PRED_TEO), ("kane_hi", KANE_HI), ("kane_lo", KANE_LO),
        ("teo_hi", TEO_HI), ("teo_lo", TEO_LO)]:
    assert len(arr) == N, (name, len(arr), N)

# ---------------------------------------------------------------- layout
FONT = "DejaVu Sans"
FRAME_W = 1984
LEFT, RIGHT = 94, 22
X_RANGE = Range1d(-37.75, 792.75)
# legend reading order: columns of (4.5, 7.5, 10.5), (13.5, 16.5), (19.5, 22.5), (25.5, 28.5)
LEGEND_ORDER = [0, 3, 5, 7, 1, 4, 6, 8, 2]


def style_axes(p, ylabel, show_x_labels):
    p.outline_line_color = "#222222"
    p.outline_line_width = 1.4
    p.xgrid.grid_line_color = None
    p.ygrid.grid_line_color = "#e6e6e6"
    p.ygrid.grid_line_width = 1
    for ax in p.axis:
        ax.axis_line_color = "#222222"
        ax.axis_line_width = 1.4
        ax.major_tick_line_color = "#222222"
        ax.major_tick_line_width = 1
        ax.major_tick_out = 5
        ax.major_tick_in = 0
        ax.minor_tick_line_color = None
        ax.major_label_text_font = FONT
        ax.major_label_text_font_size = "13px"
        ax.major_label_text_color = "#222222"
        ax.major_label_standoff = 6
        ax.axis_label_text_font = FONT
        ax.axis_label_text_font_style = "normal"
        ax.axis_label_text_color = "#111111"
    p.xaxis.ticker = FixedTicker(ticks=X_TICKS)
    p.yaxis.axis_label = ylabel
    p.yaxis.axis_label_text_font_size = "13px"
    p.yaxis.axis_label_standoff = 10
    if not show_x_labels:
        # shared time axis: tick marks only, labels are left to the bottom panel
        p.xaxis.major_label_text_color = None
        p.xaxis.major_label_text_font_size = "2px"
        p.xaxis.major_label_standoff = 0


def add_rounds(p, label_y):
    for t in ROUND_STARTS:
        p.add_layout(Span(location=t, dimension="height", line_color="#555555",
                          line_alpha=0.75, line_width=1, line_dash="1 2", level="underlay"))
    p.text(x=[t + 2 for t in ROUND_STARTS], y=[label_y] * len(ROUND_STARTS), text=ROUND_NAMES,
           text_font=value(FONT), text_font_size="14px", text_color="#555555",
           text_alpha=0.85, text_baseline="top", text_align="left")


def prob_panel(title_text, series, gaps, top_border):
    p = figure(frame_width=FRAME_W, frame_height=467, min_border_left=LEFT,
               min_border_right=RIGHT, min_border_top=top_border, min_border_bottom=20,
               x_range=X_RANGE, y_range=Range1d(0, 1.15), title=title_text,
               output_backend="svg", toolbar_location=None)
    p.title.text_font = FONT
    p.title.text_font_size = "21px"
    p.title.text_font_style = "normal"
    p.title.text_color = "#000000"
    p.title.align = "center"
    style_axes(p, "Prob", False)
    p.yaxis.ticker = FixedTicker(ticks=[round(0.05 * i, 2) for i in range(24)])
    p.yaxis.formatter = PrintfTickFormatter(format="%.2f")
    add_rounds(p, 1.15 * 0.97)

    handles = []
    for vals, gap, color in zip(series, gaps, COLORS):
        main = np.array(vals, dtype=float)
        lower = main - np.array(gap)[SEGMENT]
        p.varea(x=TIMES, y1=lower, y2=main, fill_color=color, fill_alpha=0.1)
        r = p.line(TIMES, main, line_color=color, line_width=2, line_alpha=0.88)
        p.line(TIMES, lower, line_color=color, line_width=1.3, line_alpha=0.6, line_dash="2 3")
        handles.append(r)

    items = [LegendItem(label=f"under {THRESHOLDS[i]}", renderers=[handles[i]])
             for i in LEGEND_ORDER]
    legend = Legend(items=items, location="top_right", orientation="horizontal", ncols=4,
                    label_text_font=FONT, label_text_font_size="12px", label_text_color="#111111",
                    glyph_width=27, glyph_height=14, label_standoff=8, label_width=87,
                    label_height=16, spacing=3, padding=5, margin=7,
                    border_line_color="#cccccc", border_line_width=1,
                    background_fill_color="white", background_fill_alpha=0.8)
    p.add_layout(legend)
    return p


top = prob_panel("KANE SHEPHERD \u2014 Total Strikes Landed R7 Under Full Fight (Event 16317)",
                 KANE_SERIES, KANE_GAPS, 51)
mid = prob_panel("TEO ALIN \u2014 Total Strikes Landed R7 Under Full Fight (Event 16317)",
                 TEO_SERIES, TEO_GAPS, 40)

# ---------------------------------------------------------------- count panel
bot = figure(frame_width=FRAME_W, frame_height=312, min_border_left=LEFT,
             min_border_right=RIGHT, min_border_top=41, min_border_bottom=82,
             x_range=X_RANGE, y_range=Range1d(-6.1, 34.9),
             output_backend="svg", toolbar_location=None)
style_axes(bot, "Count", True)
bot.yaxis.ticker = FixedTicker(ticks=[-5, 0, 5, 10, 15, 20, 25, 30])
bot.xaxis.axis_label = "Fight time (seconds)"
bot.xaxis.axis_label_text_font_size = "21px"
bot.xaxis.axis_label_standoff = 9
add_rounds(bot, 34.9 * 0.97)

bot.varea(x=TIMES, y1=KANE_LO, y2=KANE_HI, fill_color="#ff0000", fill_alpha=0.14)
bot.line(TIMES, KANE_HI, line_color="#ff0000", line_alpha=0.15, line_width=1)
bot.line(TIMES, KANE_LO, line_color="#ff0000", line_alpha=0.15, line_width=1)
bot.varea(x=TIMES, y1=TEO_LO, y2=TEO_HI, fill_color="#0000ff", fill_alpha=0.12)
bot.line(TIMES, TEO_HI, line_color="#0000ff", line_alpha=0.13, line_width=1)
bot.line(TIMES, TEO_LO, line_color="#0000ff", line_alpha=0.13, line_width=1)

r_tk = bot.line(TIMES, TRUTH_KANE, line_color="#ff0000", line_alpha=0.72, line_width=2.6)
r_tt = bot.line(TIMES, TRUTH_TEO, line_color="#0000ff", line_alpha=0.72, line_width=2.6)
r_pk = bot.line(TIMES, PRED_KANE, line_color="#ff0000", line_alpha=0.6, line_width=2.6,
                line_dash="3 4")
r_pt = bot.line(TIMES, PRED_TEO, line_color="#0000ff", line_alpha=0.6, line_width=2.6,
                line_dash="3 4")

count_legend = Legend(items=[
    LegendItem(label=f"Truth KANE SHEPHERD: {TRUTH_KANE[-1]}", renderers=[r_tk]),
    LegendItem(label=f"Truth TEO ALIN: {TRUTH_TEO[-1]}", renderers=[r_tt]),
    LegendItem(label=f"Predicted KANE SHEPHERD: {PRED_KANE[0]}", renderers=[r_pk]),
    LegendItem(label=f"Predicted TEO ALIN: {PRED_TEO[0]}", renderers=[r_pt]),
], location="top_left", label_text_font=FONT, label_text_font_size="12.5px",
    label_text_color="#111111", glyph_width=32, glyph_height=14, label_standoff=10,
    label_height=17, spacing=5, padding=7, margin=5,
    border_line_color="#cccccc", border_line_width=1,
    background_fill_color="white", background_fill_alpha=0.8)
bot.add_layout(count_legend)

layout = column(top, mid, bot, spacing=0)
open("out.html", "w").write(file_html(layout, INLINE))
